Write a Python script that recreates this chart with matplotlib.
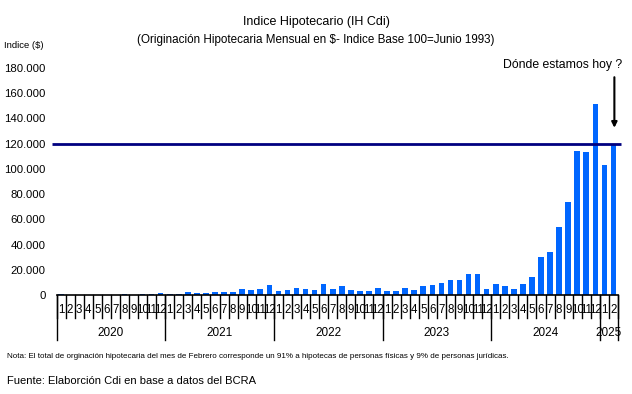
import matplotlib
matplotlib.use("Agg")
import matplotlib.pyplot as plt
import numpy as np

plt.rcParams['font.family'] = ['Liberation Sans', 'DejaVu Sans']

# monthly index values, Jan 2020 .. Feb 2025
v2020 = [800, 150, 150, 150, 150, 150, 150, 800, 150, 800, 800, 1600]
v2021 = [800, 800, 2400, 1600, 1600, 2400, 2400, 2400, 4800, 4000, 4800, 8000]
v2022 = [3200, 4000, 5600, 4800, 4000, 8700, 4800, 7200, 4000, 3200, 3200, 5600]
v2023 = [3200, 3200, 5600, 4000, 7200, 8000, 9500, 11900, 11900, 16700, 16700, 4800]
v2024 = [8700, 7200, 4800, 8700, 14300, 30200, 34200, 54000, 74000, 114500, 113700, 151800]
v2025 = [103300, 120000]

years = ['2020', '2021', '2022', '2023', '2024', '2025']
months_per_year = [12, 12, 12, 12, 12, 2]
ref_level = 120000
yticks = [0, 20000, 40000, 60000, 80000, 100000, 120000, 140000, 160000, 180000]

values = v2020 + v2021 + v2022 + v2023 + v2024 + v2025
month_lbls = []
for n in months_per_year:
    month_lbls += [str(m) for m in range(1, n + 1)]
x = np.arange(len(values))

fig = plt.figure(figsize=(6.32, 3.94), dpi=100)
ax = fig.add_axes([56.5/632, 1-295/394, 561.5/632, 227/394])

ax.bar(x, values, width=0.62, color='#0066ff')
ax.hlines(ref_level, -1.0, 61.8, color='#000080', lw=2, clip_on=False, zorder=3)

ax.set_xlim(-0.5, len(values) - 0.5)
ax.set_ylim(0, 180000)
ax.set_yticks(yticks)
ax.set_yticklabels(['{:,}'.format(t).replace(',', '.') for t in yticks], fontsize=8.2)
ax.tick_params(axis='y', length=0, pad=8)
ax.set_xticks([])
for s in ['top', 'right', 'left']:
    ax.spines[s].set_visible(False)
ax.spines['bottom'].set_linewidth(1.2)

# two level category axis
tr = ax.get_xaxis_transform()
for i in range(len(values) + 1):
    ax.plot([i - 0.5, i - 0.5], [0, -0.101], color='black', lw=1, transform=tr, clip_on=False)
for i, lbl in enumerate(month_lbls):
    ax.text(i, -0.066, lbl, transform=tr, ha='center', va='center', fontsize=8.3)
start = 0
bounds = [0]
for yr, n in zip(years, months_per_year):
    ax.text(start + n / 2 - 0.5, -0.167, yr, transform=tr, ha='center', va='center', fontsize=8.5)
    start += n
    bounds.append(start)
for b in bounds:
    ax.plot([b - 0.5, b - 0.5], [0, -0.198], color='black', lw=1, transform=tr, clip_on=False)

# annotation
ax.annotate('', xy=(61.1, 130400), xytext=(61.1, 174900),
            arrowprops=dict(arrowstyle='-|>', color='black', lw=1.5, mutation_scale=8),
            annotation_clip=False)
ax.text(61.95, 182000, 'Dónde estamos hoy ?', ha='right', va='center', fontsize=8.8, clip_on=False)

fig.text(0.5, 1-22/394, 'Indice Hipotecario (IH Cdi)', ha='center', va='center', fontsize=9)
fig.text(0.5, 1-40/394, '(Originación Hipotecaria Mensual en $- Indice Base 100=Junio 1993)',
         ha='center', va='center', fontsize=8.4)
fig.text(4/632, 1-46/394, 'Indice ($)', ha='left', va='center', fontsize=6.8)
fig.text(7/632, 1-356/394, 'Nota: El total de orginación hipotecaria del mes de Febrero corresponde un 91% a hipotecas de personas físicas y 9% de personas jurídicas.',
         ha='left', va='center', fontsize=5.8)
fig.text(7/632, 1-381/394, 'Fuente: Elaborción Cdi en base a datos del BCRA', ha='left', va='center', fontsize=8)

fig.savefig('out.png', dpi=100)
